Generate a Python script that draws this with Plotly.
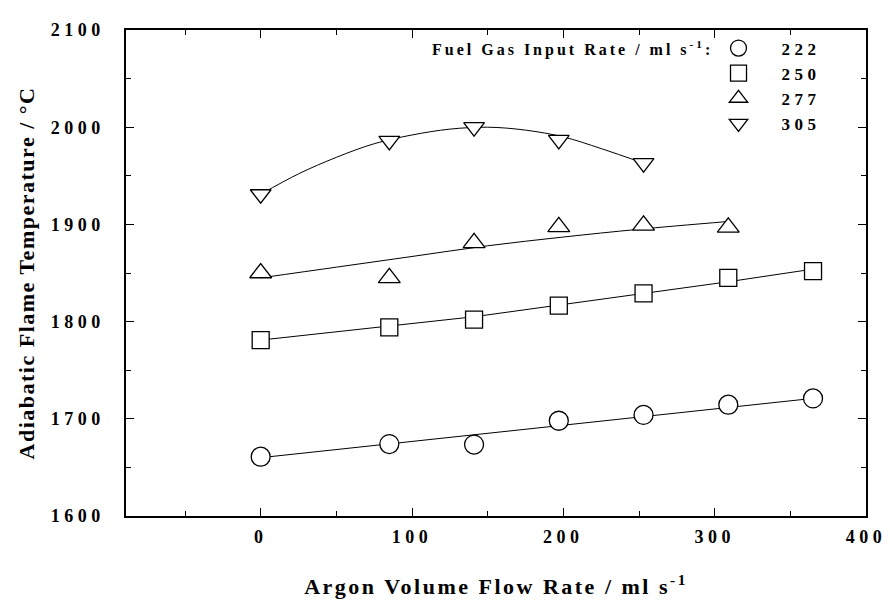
import plotly.graph_objects as go

# ---- data ----
argon_flow = [0, 85, 141, 197, 253, 309, 365]          # ml s^-1
temp_222 = [1661, 1674, 1673.5, 1698, 1704, 1714.5, 1721]
temp_250 = [1781, 1794, 1802, 1816.5, 1829, 1845, 1852]
temp_277 = [1850, 1845, 1881, 1897.5, 1899, 1897]
temp_305 = [1931, 1986, 2000, 1987, 1963]

# fitted curves
fit_222_x = [0, 365]
fit_222_y = [1660, 1721]
fit_250_x = [0, 85, 141, 197, 253, 309, 365]
fit_250_y = [1781, 1795, 1805, 1817, 1829, 1841, 1854]
fit_277_x = [0, 50, 100, 150, 200, 250, 309]
fit_277_y = [1845, 1856, 1867, 1878, 1887, 1895, 1903]
fit_305_x = [0, 25, 50, 75, 100, 125, 150, 175, 200, 225, 253]
fit_305_y = [1931, 1952, 1969, 1983, 1992, 1998, 2000, 1997, 1990, 1978, 1963]

series_names = ["222", "250", "277", "305"]
x_ticks = [0, 100, 200, 300, 400]
y_ticks = [1600, 1700, 1800, 1900, 2000, 2100]

FONT = "Liberation Serif"

def spaced(t, px):
    return f"<span style='letter-spacing:{px}px'>{t}</span>"

fig = go.Figure()

fits = [(fit_222_x, fit_222_y, "linear"), (fit_250_x, fit_250_y, "linear"),
        (fit_277_x, fit_277_y, "spline"), (fit_305_x, fit_305_y, "spline")]
for fx, fy, shape in fits:
    fig.add_trace(go.Scatter(x=fx, y=fy, mode="lines", showlegend=False,
                             line=dict(color="black", width=1, shape=shape),
                             hoverinfo="skip"))

temps = [temp_222, temp_250, temp_277, temp_305]
symbols = ["circle", "square", "triangle-up", "triangle-down"]
sizes = [19, 17, 19, 18]
for i, (name, t) in enumerate(zip(series_names, temps)):
    fig.add_trace(go.Scatter(
        x=argon_flow[:len(t)], y=t, mode="markers", name=spaced(name, 4.5),
        legendgroup=name,
        marker=dict(symbol=symbols[i], size=sizes[i], color="white",
                    line=dict(color="black", width=1.3))))

axis_common = dict(showline=True, linecolor="black", linewidth=1.5, mirror="allticks",
                   ticks="inside", ticklen=8, tickwidth=1, tickcolor="black",
                   showgrid=False, zeroline=False,
                   tickfont=dict(family=FONT, size=18, color="black", weight="bold"),
                   minor=dict(ticks="inside", ticklen=5, tickwidth=1, tickcolor="black",
                              dtick=50, showgrid=False))

fig.update_xaxes(range=[-89, 400], tickvals=x_ticks,
                 ticktext=[spaced(v, 4.5) for v in x_ticks],
                 ticklabelstandoff=4,
                 title=dict(text=spaced("Argon Volume Flow Rate / ml s<sup>-1</sup>", 2.5),
                            font=dict(family=FONT, size=22, color="black", weight="bold"),
                            standoff=32),
                 **axis_common)
fig.update_yaxes(range=[1600, 2100], tickvals=y_ticks,
                 ticktext=[spaced(v, 4.5) for v in y_ticks],
                 ticklabelstandoff=16,
                 title=dict(text=spaced("Adiabatic Flame Temperature / °C", 1.5),
                            font=dict(family=FONT, size=22, color="black", weight="bold"),
                            standoff=10),
                 **axis_common)

fig.add_annotation(xref="paper", yref="paper", x=0.7963, y=0.962,
                   xanchor="right", yanchor="middle", showarrow=False,
                   text=spaced("Fuel Gas Input Rate / ml s<sup>-1</sup>:", 3),
                   font=dict(family=FONT, size=16, color="black", weight="bold"))

fig.update_layout(
    width=890, height=602,
    margin=dict(l=118, r=21, t=18, b=94),
    paper_bgcolor="white", plot_bgcolor="white",
    legend=dict(x=0.7696, y=0.999, xanchor="left", yanchor="top",
                bgcolor="rgba(0,0,0,0)", borderwidth=0, itemwidth=76,
                tracegroupgap=0,
                font=dict(family=FONT, size=17, color="black", weight="bold")),
)

fig.write_html("out.html")
